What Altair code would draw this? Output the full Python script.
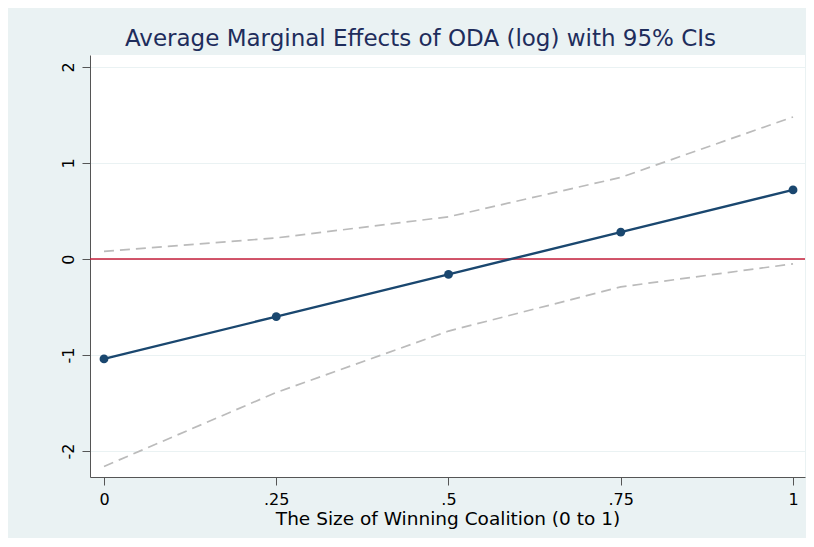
import altair as alt
import pandas as pd

x_vals = [0, 0.25, 0.5, 0.75, 1.0]
effect = [-1.04, -0.60, -0.16, 0.28, 0.72]
ci_upper = [0.08, 0.22, 0.44, 0.85, 1.48]
ci_lower = [-2.16, -1.39, -0.75, -0.29, -0.05]
x_ticks = [0, 0.25, 0.5, 0.75, 1.0]
y_ticks = [-2, -1, 0, 1, 2]

title_text = "Average Marginal Effects of ODA (log) with 95% CIs"
x_title = "The Size of Winning Coalition (0 to 1)"

df = pd.DataFrame({"x": x_vals, "eff": effect, "up": ci_upper, "lo": ci_lower})

FONT = "DejaVu Sans"
xscale = alt.Scale(domain=[-0.0203, 1.0174], nice=False, zero=False)
yscale = alt.Scale(domain=[-2.27, 2.125], nice=False, zero=False)

xaxis = alt.Axis(values=x_ticks, title=x_title,
                 labelExpr="datum.value == 0 ? '0' : datum.value == 1 ? '1' : replace(format(datum.value, '.2~f'), '0.', '.')",
                 grid=False, domainColor="#555555", tickColor="#555555", tickSize=8,
                 labelFontSize=16, labelColor="#000000", labelFont=FONT, labelPadding=6,
                 titleFontSize=18.5, titleFont=FONT, titleFontWeight="normal", titleColor="#000000",
                 titlePadding=2)
yaxis = alt.Axis(values=y_ticks, title=None, grid=True, gridColor="#EAF2F3", gridWidth=1.2,
                 labelExpr="datum.value < 0 ? '-' + abs(datum.value) : '' + datum.value",
                 domainColor="#555555", tickColor="#555555", tickSize=8,
                 labelAngle=270, labelAlign="center", labelBaseline="bottom",
                 labelFontSize=16, labelColor="#000000", labelFont=FONT, labelPadding=6)

base = alt.Chart(df)

zero = alt.Chart(pd.DataFrame({"z": [0]})).mark_rule(color="#C41E3A", strokeWidth=1.6).encode(
    y=alt.Y("z:Q", scale=yscale, axis=yaxis))

upper = base.mark_line(color="#BBBBBB", strokeWidth=1.7, strokeDash=[10, 6]).encode(
    x=alt.X("x:Q", scale=xscale, axis=xaxis), y=alt.Y("up:Q", scale=yscale, axis=yaxis))
lower = base.mark_line(color="#BBBBBB", strokeWidth=1.7, strokeDash=[10, 6]).encode(
    x=alt.X("x:Q", scale=xscale, axis=xaxis), y=alt.Y("lo:Q", scale=yscale, axis=yaxis))
main = base.mark_line(color="#1A476F", strokeWidth=2.4).encode(
    x=alt.X("x:Q", scale=xscale, axis=xaxis), y=alt.Y("eff:Q", scale=yscale, axis=yaxis))
pts = base.mark_circle(color="#1A476F", size=78, opacity=1).encode(
    x=alt.X("x:Q", scale=xscale, axis=xaxis), y=alt.Y("eff:Q", scale=yscale, axis=yaxis))

chart = alt.layer(zero, upper, lower, main, pts).properties(
    width=715, height=422,
    title=alt.TitleParams(title_text, fontSize=23, font=FONT, fontWeight="normal",
                          color="#1E2D5C", anchor="middle", dx=-27, offset=4),
    autosize=alt.AutoSizeParams(type="none"),
    padding={"left": 82, "top": 47, "right": 1, "bottom": 61},
    background="#EAF2F3",
).configure_view(fill="#FFFFFF", stroke=None)

chart.save("out.html", embed_options={"renderer": "svg", "actions": False})
